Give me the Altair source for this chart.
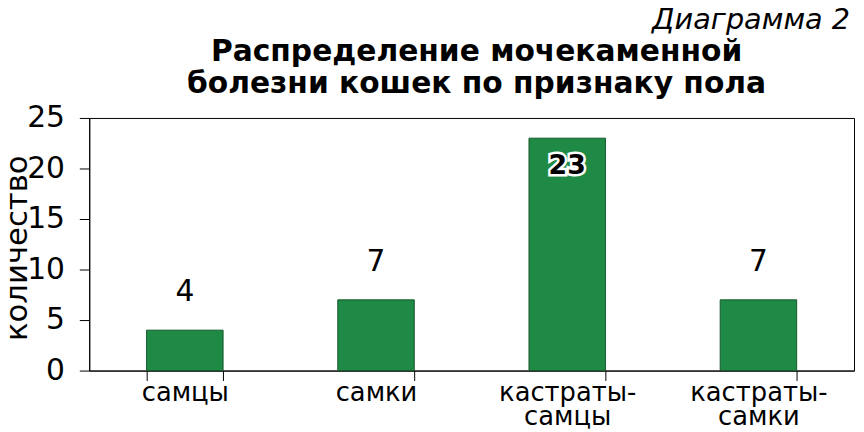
import altair as alt
import pandas as pd

categories = ["самцы", "самки", "кастраты-\nсамцы", "кастраты-\nсамки"]
counts = [4, 7, 23, 7]
y_ticks = [0, 5, 10, 15, 20, 25]
title_lines = ["Распределение мочекаменной", "болезни кошек по признаку пола"]
note = "Диаграмма 2"
y_title = "количество"

FONT = "DejaVu Sans"
BAR = "#1f8a45"

df = pd.DataFrame({"cat": categories, "n": counts})

base = alt.Chart(df).encode(
    x=alt.X(
        "cat:N",
        sort=categories,
        scale=alt.Scale(paddingInner=0.6, paddingOuter=0.3),
        axis=alt.Axis(
            title=None,
            labelAngle=0,
            labelFont=FONT,
            labelFontSize=26,
            labelColor="black",
            labelLineHeight=24,
            labelPadding=-1,
            labelExpr="split(datum.label, '\\n')",
            tickSize=10,
            tickBand="extent",
            tickColor="black",
            domainColor="black",
        ),
    ),
    y=alt.Y(
        "n:Q",
        scale=alt.Scale(domain=[0, 25], nice=False),
        axis=alt.Axis(
            values=y_ticks,
            title=y_title,
            titleFont=FONT,
            titleFontSize=31,
            titleFontWeight="normal",
            titleColor="black",
            titleX=-63,
            titleY=131,
            titleAngle=270,
            titleAlign="center",
            titleBaseline="alphabetic",
            labelFont=FONT,
            labelFontSize=30,
            labelColor="black",
            labelPadding=15,
            tickSize=10,
            tickColor="black",
            domainColor="black",
            grid=False,
        ),
    ),
)

bars = base.mark_bar(color=BAR, stroke="#15572c", strokeWidth=1)

outside = base.transform_filter("datum.n < 20").mark_text(
    font=FONT, fontSize=30, color="black", baseline="alphabetic", dy=-29
).encode(text="n:Q")

inside_halo = base.transform_filter("datum.n >= 20").mark_text(
    font=FONT, fontSize=27, fontWeight="bold", color="white",
    stroke="white", strokeWidth=5, baseline="alphabetic", dy=36
).encode(text="n:Q")

inside = base.transform_filter("datum.n >= 20").mark_text(
    font=FONT, fontSize=27, fontWeight="bold", color="black",
    baseline="alphabetic", dy=36
).encode(text="n:Q")

note_df = pd.DataFrame({"t": [note]})
note_layer = alt.Chart(note_df).mark_text(
    font=FONT, fontSize=29, fontStyle="italic", color="black",
    align="right", baseline="alphabetic"
).encode(x=alt.value(768), y=alt.value(-90), text="t:N")

title_df = pd.DataFrame({"t": ["\n".join(title_lines)]})
title_layer = alt.Chart(title_df).mark_text(
    font=FONT, fontSize=30, fontWeight="bold", color="black",
    align="center", baseline="alphabetic", lineBreak="\n", lineHeight=32
).encode(x=alt.value(391), y=alt.value(-57), text="t:N")

chart = alt.layer(
    bars, outside, inside_halo, inside, note_layer, title_layer
).properties(
    width=772,
    height=255,
    autosize=alt.AutoSizeParams(type="none"),
    padding={"left": 82, "top": 109, "right": 2, "bottom": 60},
).configure_view(stroke="black", strokeWidth=1).configure_axis(
    domainWidth=1, tickWidth=1
)

chart.save("out.html", embed_options={"renderer": "svg", "actions": False})
